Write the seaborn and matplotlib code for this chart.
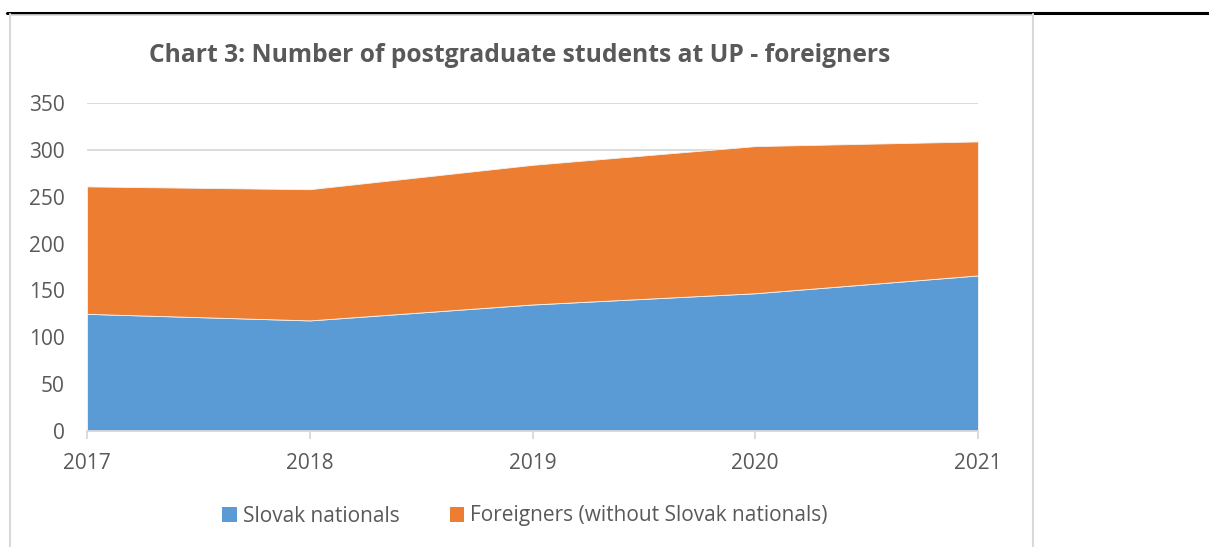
import pandas as pd
import numpy as np
import seaborn as sns
import matplotlib.pyplot as plt
from matplotlib.lines import Line2D
from matplotlib.patches import Patch

years = ['2017', '2018', '2019', '2020', '2021']
slovak = [125, 118, 135, 147, 166]
foreigners = [136, 140, 149, 157, 143]
series_names = ['Slovak nationals', 'Foreigners (without Slovak nationals)']
colors = ['#5b9bd5', '#ed7d31']

df = pd.DataFrame({'year': years, series_names[0]: slovak, series_names[1]: foreigners})

sns.set_style('white')
plt.rcParams['font.family'] = ['Open Sans', 'DejaVu Sans']
text_gray = '#595959'
grid_gray = '#d9d9d9'

fig = plt.figure(figsize=(12.09, 5.47), dpi=100)
ax = fig.add_axes([87 / 1209, 1 - 431 / 547, (978 - 87) / 1209, (431 - 103) / 547])

x = np.arange(len(years))
ax.stackplot(x, df[series_names[0]], df[series_names[1]], colors=colors,
             edgecolor='#f4f4f4', linewidth=0.6, zorder=2)

ax.set_xlim(0, len(years) - 1)
ax.set_ylim(0, 350)
ax.set_yticks(range(0, 351, 50))
ax.set_xticks(x)
ax.set_xticklabels(years)
ax.yaxis.grid(True, color=grid_gray, linewidth=1.3, zorder=0)
ax.set_axisbelow(True)
for s in ['top', 'right', 'left']:
    ax.spines[s].set_visible(False)
ax.spines['bottom'].set_color(grid_gray)
ax.spines['bottom'].set_linewidth(1.3)
ax.spines['bottom'].set_zorder(3)
ax.tick_params(axis='x', length=6, width=1.3, color=grid_gray, direction='out',
               labelsize=15, labelcolor=text_gray, pad=10, bottom=True)
ax.tick_params(axis='y', length=0, labelsize=15, labelcolor=text_gray, pad=16)
for lbl in ax.get_yticklabels():
    lbl.set_horizontalalignment('right')

fig.text(520 / 1209, 1 - 55 / 547, 'Chart 3: Number of postgraduate students at UP - foreigners',
         ha='center', va='center', fontsize=17.7, fontweight='bold', color=text_gray)

handles = [Patch(facecolor=c, edgecolor='none') for c in colors]
fig.legend(handles, series_names, loc='center', bbox_to_anchor=(525 / 1209, 1 - 516 / 547),
           ncol=2, frameon=False, fontsize=15, labelcolor=text_gray,
           handlelength=0.7, handleheight=0.7, handletextpad=0.3, columnspacing=2.4)

# frame lines
fig.add_artist(Line2D([7 / 1209, 1], [1 - 13 / 547, 1 - 13 / 547], color='black', linewidth=2.2))
fig.add_artist(Line2D([10 / 1209, 10 / 1209], [0, 1 - 14 / 547], color=grid_gray, linewidth=1.5))
fig.add_artist(Line2D([1033 / 1209, 1033 / 1209], [0, 1 - 14 / 547], color=grid_gray, linewidth=1.5))
fig.add_artist(Line2D([10 / 1209, 1033 / 1209], [1 - 15 / 547, 1 - 15 / 547], color=grid_gray, linewidth=1.2))

plt.savefig('out.png', dpi=100)
